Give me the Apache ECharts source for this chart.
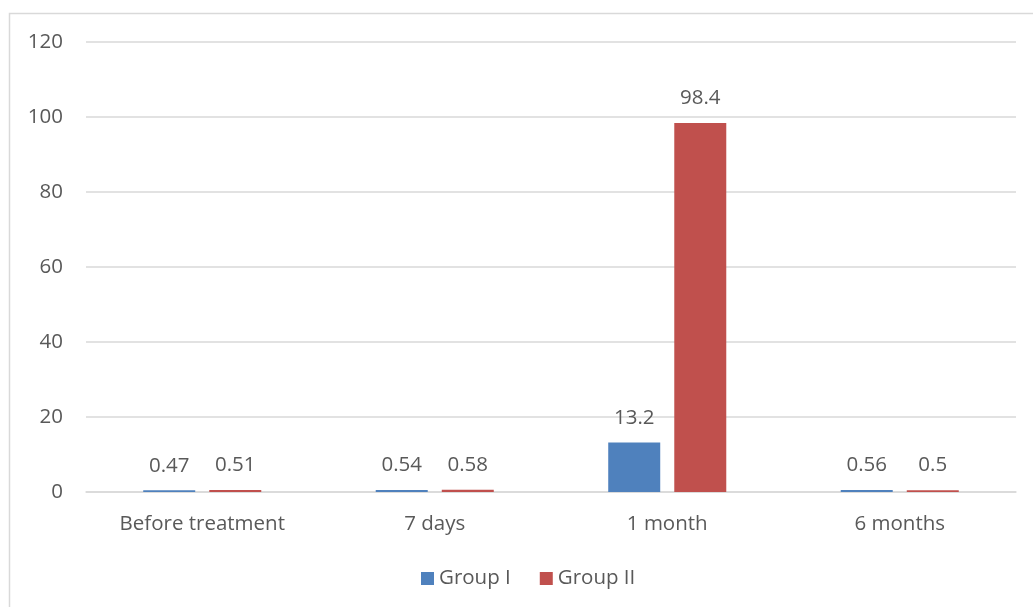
<!DOCTYPE html>
<html><head><meta charset="utf-8">
<script src="https://cdn.jsdelivr.net/npm/echarts@6/dist/echarts.min.js"></script>
<style>html,body{margin:0;padding:0;background:#fff}#c{width:1033px;height:607px}</style>
</head><body><div id="c"></div>
<script>
const categories = ['Before treatment', '7 days', '1 month', '6 months'];
const groupI = [0.47, 0.54, 13.2, 0.56];
const groupII = [0.51, 0.58, 98.4, 0.5];
const seriesNames = ['Group I', 'Group II'];
const yTicks = { min: 0, max: 120, interval: 20 };

const font = '"Open Sans", sans-serif';
const fs = 20.5;
const txt = '#595959';
const chart = echarts.init(document.getElementById('c'), null, { renderer: 'canvas' });
const lbl = { show: true, position: 'top', distance: 14, color: txt, fontSize: fs, fontFamily: font };
chart.setOption({
  animation: false,
  graphic: [{ type: 'rect', shape: { x: 9.5, y: 13.5, width: 1040, height: 620 }, style: { fill: 'none', stroke: '#d9d9d9', lineWidth: 1.5 }, silent: true }],
  grid: { left: 86, right: 17, top: 42, bottom: 115, containLabel: false },
  legend: {
    bottom: 13, left: 416, itemWidth: 13, itemHeight: 13, itemGap: 29, icon: 'rect',
    textStyle: { color: txt, fontSize: fs, fontFamily: font },
    data: seriesNames
  },
  xAxis: {
    type: 'category', data: categories,
    axisLine: { lineStyle: { color: '#d9d9d9', width: 1.5 } },
    axisTick: { show: false },
    axisLabel: { color: txt, fontSize: fs, fontFamily: font, margin: 22 }
  },
  yAxis: {
    type: 'value', min: yTicks.min, max: yTicks.max, interval: yTicks.interval,
    axisLine: { show: false }, axisTick: { show: false },
    splitLine: { lineStyle: { color: '#d9d9d9', width: 1.5 } },
    axisLabel: { color: txt, fontSize: fs, fontFamily: font, margin: 23 }
  },
  series: [
    { name: seriesNames[0], type: 'bar', data: groupI, barWidth: 52, barGap: '27%', itemStyle: { color: '#4F81BD' }, label: lbl },
    { name: seriesNames[1], type: 'bar', data: groupII, barWidth: 52, itemStyle: { color: '#C0504D' }, label: lbl }
  ]
});
</script></body></html>
